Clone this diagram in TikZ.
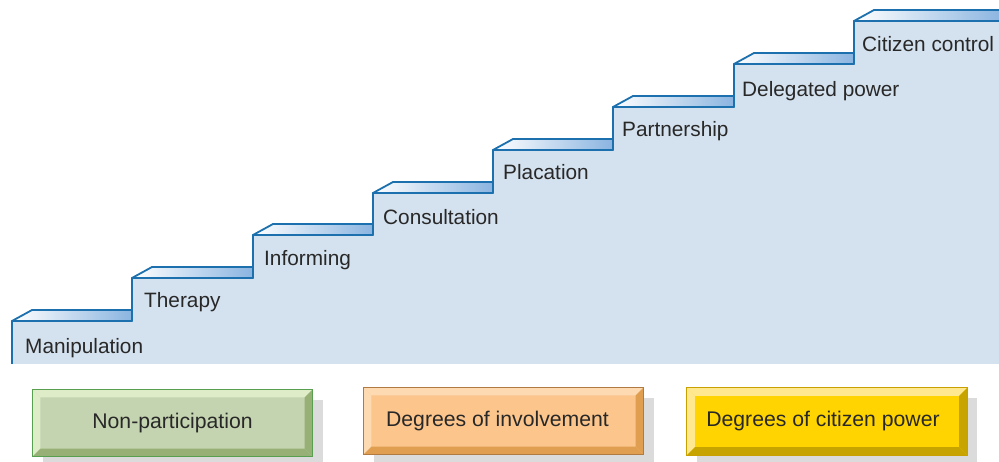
\documentclass[tikz,border=0pt]{standalone}
\usepackage{fontspec}
\setmainfont{Liberation Sans}
\usepackage{tikz}
\usetikzlibrary{shadows}
\definecolor{stairbg}{RGB}{212,225,238}
\definecolor{stairln}{RGB}{28,112,173}
\definecolor{treadbl}{RGB}{138,180,224}
\definecolor{txtgray}{RGB}{40,40,40}
\definecolor{nonfill}{RGB}{197,212,176}
\definecolor{nonlite}{RGB}{222,236,200}
\definecolor{nondark}{RGB}{150,176,118}
\definecolor{nonline}{RGB}{88,160,80}
\definecolor{invfill}{RGB}{251,197,140}
\definecolor{invlite}{RGB}{253,218,178}
\definecolor{invdark}{RGB}{224,158,80}
\definecolor{invline}{RGB}{176,122,64}
\definecolor{powfill}{RGB}{255,212,0}
\definecolor{powlite}{RGB}{255,232,144}
\definecolor{powdark}{RGB}{200,164,0}
\definecolor{powline}{RGB}{200,160,0}
% bevel round a box: node, light, dark, border
\newcommand{\bevelbox}[4]{%
  \fill[#2] (#1.north west) -- (#1.north east) -- ([shift={(-8pt,-8pt)}]#1.north east)
        -- ([shift={(8pt,-8pt)}]#1.north west) -- cycle;
  \fill[#2] (#1.north west) -- ([shift={(8pt,-8pt)}]#1.north west)
        -- ([shift={(8pt,8pt)}]#1.south west) -- (#1.south west) -- cycle;
  \fill[#3] (#1.south west) -- (#1.south east) -- ([shift={(-8pt,8pt)}]#1.south east)
        -- ([shift={(8pt,8pt)}]#1.south west) -- cycle;
  \fill[#3] (#1.north east) -- ([shift={(-8pt,-8pt)}]#1.north east)
        -- ([shift={(-8pt,8pt)}]#1.south east) -- (#1.south east) -- cycle;
  \draw[#4,line width=1.2pt] (#1.north west) rectangle (#1.south east);}

\begin{document}
\begin{tikzpicture}[x=1pt,y=-1pt,font=\fontsize{20.8}{24}\selectfont,
  tread/.style={draw=stairln,line width=1.8pt,line join=round,left color=white,right color=treadbl},
  rung/.style={anchor=base west,inner sep=0pt,text=txtgray},
  grp/.style={minimum width=280pt,minimum height=67pt,inner sep=0pt,text=txtgray,
    drop shadow={shadow xshift=10pt,shadow yshift=-10pt,fill=black!14,opacity=1}},
  grptxt/.style={text=txtgray,font=\fontsize{21.2}{24}\selectfont}]
  \useasboundingbox (0,0) rectangle (999,462);
  % staircase
  \fill[stairbg] (12,364) -- (12,321) -| (132,278) -| (253,235) -| (373,193) -| (493,150)
        -| (613,107) -| (734,64) -| (854,21) -- (1003,21) -- (1003,364) -- cycle;
  \draw[tread] (12,321)  -- ++(20,-11) -| (132,321)  -- cycle;
  \draw[tread] (132,278) -- ++(20,-11) -| (253,278)  -- cycle;
  \draw[tread] (253,235) -- ++(20,-11) -| (373,235)  -- cycle;
  \draw[tread] (373,193) -- ++(20,-11) -| (493,193)  -- cycle;
  \draw[tread] (493,150) -- ++(20,-11) -| (613,150)  -- cycle;
  \draw[tread] (613,107) -- ++(20,-11) -| (734,107)  -- cycle;
  \draw[tread] (734,64)  -- ++(20,-11) -| (854,64)   -- cycle;
  \draw[tread] (854,21)  -- ++(20,-11) -| (1003,21)  -- cycle;
  \draw[stairln,line width=1.8pt,line join=round] (12,364) -- (12,321) -| (132,278) -| (253,235)
        -| (373,193) -| (493,150) -| (613,107) -| (734,64) -| (854,21) -- (1003,21);
  \node[rung] (manip)   at (25,353)  {Manipulation};
  \node[rung] (therapy) at (144,308) {Therapy};
  \node[rung] (inform)  at (264,266) {Informing};
  \node[rung] (consult) at (383,225) {Consultation};
  \node[rung] (placate) at (503,180) {Placation};
  \node[rung] (partner) at (622,137) {Partnership};
  \node[rung] (deleg)   at (742,97)  {Delegated power};
  \node[rung] (control) at (862,52)  {Citizen control};
  % groups
  \node[grp,fill=nonfill] (nonpart) at (172.5,423) {};
  \bevelbox{nonpart}{nonlite}{nondark}{nonline}
  \node[grptxt] at (nonpart) {Non-participation};
  \node[grp,fill=invfill] (involve) at (503.5,421) {};
  \bevelbox{involve}{invlite}{invdark}{invline}
  \node[grptxt,xshift=-6pt] at (involve) {Degrees of involvement};
  \node[grp,fill=powfill] (power) at (827,421.5) {};
  \bevelbox{power}{powlite}{powdark}{powline}
  \node[grptxt,xshift=-4pt] at (power) {Degrees of citizen power};
\end{tikzpicture}
\end{document}
